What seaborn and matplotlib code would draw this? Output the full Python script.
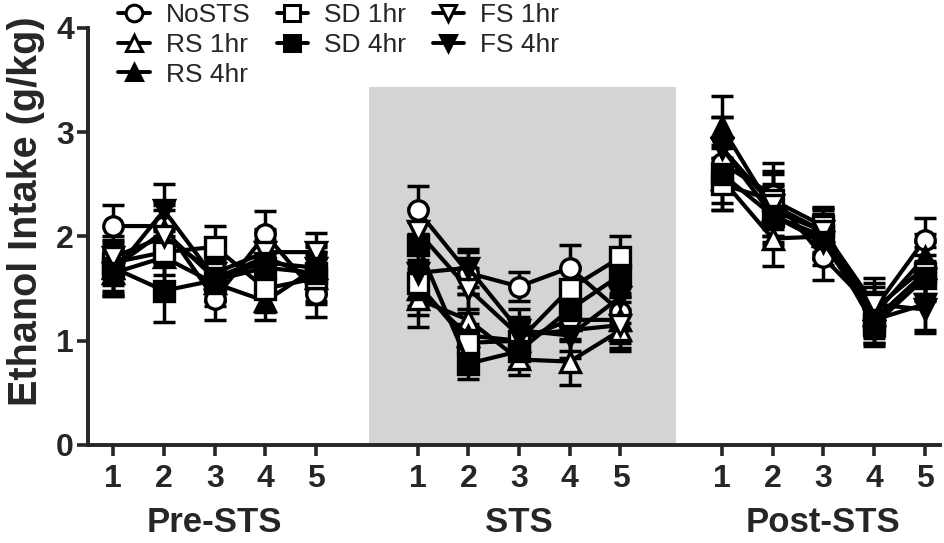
import matplotlib
matplotlib.use('Agg')
import matplotlib.pyplot as plt
import matplotlib.transforms as mtransforms
from matplotlib.lines import Line2D
import seaborn as sns
import pandas as pd

# Data (g/kg), Pre-STS days 1-5, STS days 1-5, Post-STS days 1-5
phases = ['Pre-STS', 'STS', 'Post-STS']
days = [1, 2, 3, 4, 5]
groups = ['NoSTS', 'RS 1hr', 'RS 4hr', 'SD 1hr', 'SD 4hr', 'FS 1hr', 'FS 4hr']

nosts = [2.10, 2.10, 1.40, 2.02, 1.45, 2.25, 1.65, 1.52, 1.70, 1.28, 2.70, 2.40, 1.80, 1.30, 1.97]
rs_1hr = [1.70, 2.05, 1.60, 1.80, 1.60, 1.40, 1.20, 0.82, 0.80, 1.10, 2.55, 1.98, 2.00, 1.30, 1.70]
rs_4hr = [1.65, 1.80, 1.55, 1.38, 1.70, 1.50, 1.05, 1.00, 1.20, 1.20, 3.05, 2.25, 2.05, 1.25, 1.80]
sd_1hr = [1.75, 1.85, 1.90, 1.50, 1.60, 1.55, 0.98, 1.00, 1.50, 1.80, 2.50, 2.35, 2.10, 1.20, 1.65]
sd_4hr = [1.70, 1.48, 1.58, 1.70, 1.65, 1.92, 0.78, 0.90, 1.30, 1.63, 2.60, 2.20, 2.00, 1.15, 1.60]
fs_1hr = [1.80, 2.00, 1.65, 1.85, 1.85, 2.05, 1.50, 1.05, 1.10, 1.15, 2.85, 2.30, 2.05, 1.35, 1.30]
fs_4hr = [1.65, 2.25, 1.60, 1.75, 1.70, 1.65, 1.70, 1.10, 1.05, 1.42, 2.85, 2.20, 1.95, 1.20, 1.35]

nosts_sem = [0.20, 0.20, 0.20, 0.22, 0.22, 0.23, 0.20, 0.14, 0.22, 0.18, 0.25, 0.30, 0.22, 0.22, 0.21]
rs_1hr_sem = [0.25, 0.28, 0.22, 0.25, 0.22, 0.27, 0.25, 0.15, 0.22, 0.20, 0.30, 0.26, 0.22, 0.25, 0.25]
rs_4hr_sem = [0.22, 0.25, 0.22, 0.18, 0.22, 0.25, 0.22, 0.18, 0.20, 0.22, 0.30, 0.25, 0.20, 0.22, 0.22]
sd_1hr_sem = [0.22, 0.22, 0.20, 0.22, 0.25, 0.22, 0.18, 0.18, 0.20, 0.20, 0.25, 0.28, 0.18, 0.22, 0.25]
sd_4hr_sem = [0.22, 0.30, 0.20, 0.25, 0.20, 0.22, 0.15, 0.15, 0.20, 0.20, 0.28, 0.25, 0.22, 0.20, 0.22]
fs_1hr_sem = [0.20, 0.25, 0.20, 0.22, 0.18, 0.22, 0.20, 0.18, 0.20, 0.22, 0.30, 0.30, 0.22, 0.25, 0.23]
fs_4hr_sem = [0.22, 0.25, 0.22, 0.22, 0.20, 0.25, 0.18, 0.20, 0.22, 0.25, 0.30, 0.28, 0.22, 0.22, 0.25]

values = [nosts, rs_1hr, rs_4hr, sd_1hr, sd_4hr, fs_1hr, fs_4hr]
sems = [nosts_sem, rs_1hr_sem, rs_4hr_sem, sd_1hr_sem, sd_4hr_sem, fs_1hr_sem, fs_4hr_sem]
markers = ['o', '^', '^', 's', 's', 'v', 'v']
faces = ['white', 'white', 'black', 'white', 'black', 'white', 'black']

rows = []
for g, vals, err in zip(groups, values, sems):
    for i, (v, e) in enumerate(zip(vals, err)):
        p, d = divmod(i, 5)
        rows.append({'group': g, 'phase': phases[p], 'day': days[d],
                     'pos': p * 6 + d, 'intake': v, 'err': e})
df = pd.DataFrame(rows)

sns.set_style('ticks')
plt.rcParams['font.family'] = ['Liberation Sans', 'DejaVu Sans']

fig = plt.figure(figsize=(9.44, 5.43), dpi=100)
ax = fig.add_axes([0.0932, 0.1805, 0.9025, 0.768])

# grey band behind the STS days
ax.axvspan(5.05, 11.1, ymin=0, ymax=3.43 / 4, color='#d4d4d4', lw=0, zorder=0)

for g in groups:
    for ph in phases:
        sub = df[(df['group'] == g) & (df['phase'] == ph)]
        ax.errorbar(sub['pos'], sub['intake'], yerr=sub['err'], fmt='none', ecolor='black',
                    elinewidth=2.5, capsize=8, capthick=2.5, zorder=2)

for g, m, fc in zip(groups, markers, faces):
    for ph in phases:
        sub = df[(df['group'] == g) & (df['phase'] == ph)]
        sns.lineplot(data=sub, x='pos', y='intake', ax=ax, color='black', linewidth=3,
                     marker=m, markersize=14, markerfacecolor=fc, markeredgecolor='black',
                     markeredgewidth=2.4, legend=False, errorbar=None, zorder=3)

ax.set_xlim(-0.5, 16.3)
ax.set_ylim(0, 4)
ticks = sorted(df['pos'].unique())
ax.set_xticks(ticks)
ax.set_xticklabels([str(d) for d in days] * 3)
ax.set_yticks([0, 1, 2, 3, 4])
ax.tick_params(axis='both', labelsize=23, width=2.6, length=8, direction='out')
ax.tick_params(axis='x', pad=6)
ax.tick_params(axis='y', pad=2)
for lab in ax.get_xticklabels() + ax.get_yticklabels():
    lab.set_fontweight('bold')

sns.despine(ax=ax)
for s in ['left', 'bottom']:
    ax.spines[s].set_linewidth(2.8)

ax.set_xlabel('')
ax.set_ylabel('Ethanol Intake (g/kg)', fontsize=28.5, fontweight='bold')
ax.yaxis.set_label_coords(-0.05, 0.56)

trans = mtransforms.blended_transform_factory(ax.transData, fig.transFigure)
for i, ph in enumerate(phases):
    ax.text(i * 6 + 2, 0.038, ph, transform=trans, ha='center', va='center',
            fontsize=25, fontweight='bold')

handles = [Line2D([], [], color='black', linewidth=2.8, marker=m, markersize=12,
                  markerfacecolor=fc, markeredgecolor='black', markeredgewidth=2.2)
           for m, fc in zip(markers, faces)]
fig.legend(handles, groups, loc='upper left', bbox_to_anchor=(118 / 944, 1 - 3 / 543),
           ncol=3, frameon=False, fontsize=19, handlelength=1.2, handletextpad=0.6,
           columnspacing=1.0, labelspacing=0.22, borderpad=0, borderaxespad=0)

fig.savefig('out.png', dpi=100)
